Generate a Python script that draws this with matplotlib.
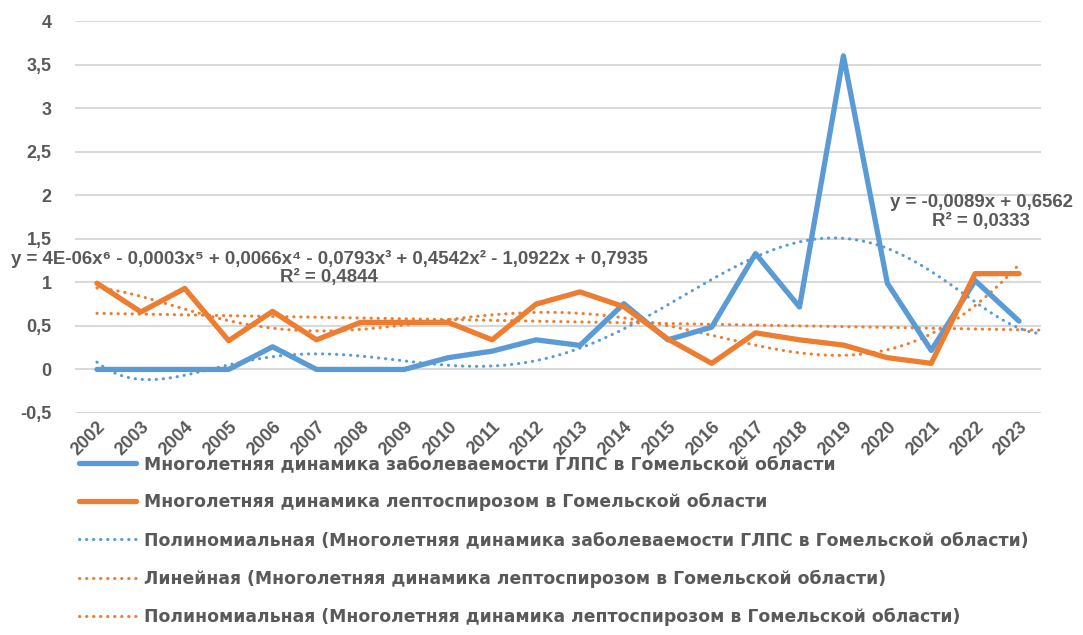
import numpy as np
import matplotlib
matplotlib.use("Agg")
import matplotlib.pyplot as plt
from matplotlib.lines import Line2D

plt.rcParams['font.family'] = ['Liberation Sans', 'DejaVu Sans']

years = [str(y) for y in range(2002, 2024)]
glps = [0, 0, 0, 0, 0.26, 0, 0, 0, 0.135, 0.21, 0.34, 0.276, 0.755, 0.34,
        0.486, 1.33, 0.716, 3.6, 0.99, 0.218, 1.02, 0.555]
lepto = [0.99, 0.66, 0.93, 0.33, 0.667, 0.34, 0.54, 0.54, 0.54, 0.34, 0.75,
         0.89, 0.72, 0.35, 0.07, 0.42, 0.34, 0.28, 0.135, 0.07, 1.1, 1.1]
y_ticks = [-0.5, 0, 0.5, 1, 1.5, 2, 2.5, 3, 3.5, 4]
y_tick_labels = ['-0,5', '0', '0,5', '1', '1,5', '2', '2,5', '3', '3,5', '4']
legend_labels = [
    'Многолетняя динамика заболеваемости ГЛПС в Гомельской области',
    'Многолетняя динамика лептоспирозом в Гомельской области',
    'Полиномиальная (Многолетняя динамика заболеваемости ГЛПС в Гомельской области)',
    'Линейная (Многолетняя динамика лептоспирозом в Гомельской области)',
    'Полиномиальная (Многолетняя динамика лептоспирозом в Гомельской области)',
]
eq_poly = 'y = 4E-06x⁶ - 0,0003x⁵ + 0,0066x⁴ - 0,0793x³ + 0,4542x² - 1,0922x + 0,7935\nR² = 0,4844'
eq_lin = 'y = -0,0089x + 0,6562\nR² = 0,0333'

BLUE = '#5B9BD5'
ORANGE = '#ED7D31'
GRAY = '#595959'
W, H = 1083, 635
WEIGHT = 'bold'

fig = plt.figure(figsize=(W / 100, H / 100), dpi=100)
ax = fig.add_axes([75 / W, 1 - 413 / H, (1041 - 75) / W, (413 - 21) / H])

n = len(years)
x = np.arange(n)
xs = x + 1  # Excel trend x = 1..n

xd_fwd = np.linspace(1, n + 0.5, 300)
xd = np.linspace(1, n, 300)
p_blue = np.polyfit(xs, glps, 6)
p_lin = np.polyfit(xs, lepto, 1)
p_or = np.polyfit(xs, lepto, 6)

dot = dict(linestyle=(0, (0.1, 2.2)), dash_capstyle='round', lw=2.2)
ax.plot(xd_fwd - 1, np.polyval(p_blue, xd_fwd), color=BLUE, zorder=3, **dot)
ax.plot(xd_fwd - 1, np.polyval(p_lin, xd_fwd), color=ORANGE, zorder=3, **dot)
ax.plot(xd - 1, np.polyval(p_or, xd), color=ORANGE, zorder=3, **dot)

ax.plot(x, glps, color=BLUE, lw=3.8, solid_joinstyle='round', solid_capstyle='round', zorder=4)
ax.plot(x, lepto, color=ORANGE, lw=3.8, solid_joinstyle='round', solid_capstyle='round', zorder=5)

ax.set_xlim(-0.5, n - 0.5)
ax.set_ylim(-0.5, 4)
ax.set_yticks(y_ticks)
ax.set_yticklabels(y_tick_labels)
ax.set_xticks(x)
ax.set_xticklabels(years, rotation=45, ha='right', rotation_mode='anchor')
ax.grid(axis='y', color='#D9D9D9', lw=1.5)
ax.set_axisbelow(True)
for s in ax.spines.values():
    s.set_visible(False)
ax.tick_params(axis='both', length=0, labelsize=13, labelcolor=GRAY)
ax.tick_params(axis='y', pad=17)
ax.tick_params(axis='x', pad=4)
for lab in ax.get_xticklabels() + ax.get_yticklabels():
    lab.set_fontweight(WEIGHT)

fig.text(329 / W, 1 - 268 / H, eq_poly, ha='center', va='center', ma='center',
         fontsize=13.4, fontweight=WEIGHT, color=GRAY, linespacing=1.1)
fig.text(981 / W, 1 - 212 / H, eq_lin, ha='center', va='center', ma='center',
         fontsize=13.4, fontweight=WEIGHT, color=GRAY, linespacing=1.1)

handles = [
    Line2D([], [], color=BLUE, lw=3.8, solid_capstyle='round'),
    Line2D([], [], color=ORANGE, lw=3.8, solid_capstyle='round'),
    Line2D([], [], color=BLUE, **dot),
    Line2D([], [], color=ORANGE, **dot),
    Line2D([], [], color=ORANGE, **dot),
]
leg = fig.legend(handles, legend_labels, loc='upper left', bbox_to_anchor=(72 / W, 1 - 448 / H),
                 frameon=False, handlelength=3.3, handletextpad=0.5,
                 labelspacing=1.17, borderaxespad=0,
                 prop={'family': 'DejaVu Sans', 'weight': 'bold', 'size': 12.4})
for t in leg.get_texts():
    t.set_color(GRAY)

fig.savefig('out.png', dpi=100)
